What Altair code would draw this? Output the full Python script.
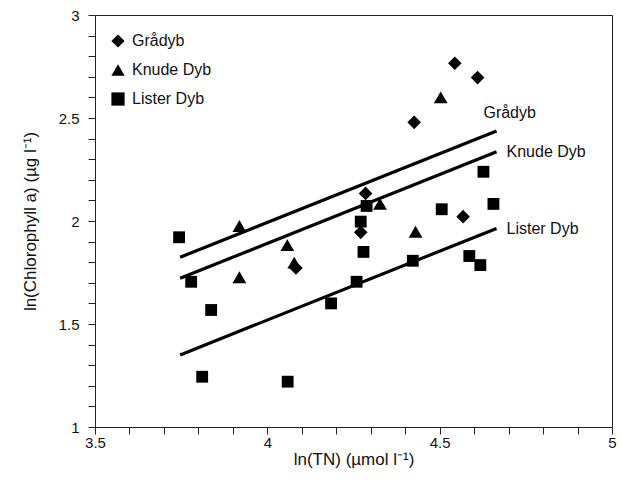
import altair as alt
import pandas as pd

# Series data
grad_x = [4.544, 4.610, 4.426, 4.285, 4.568, 4.271, 4.083]
grad_y = [2.766, 2.696, 2.479, 2.134, 2.021, 1.945, 1.772]

knud_x = [4.503, 4.327, 4.430, 3.919, 4.058, 3.919, 4.078]
knud_y = [2.600, 2.083, 1.948, 1.976, 1.883, 1.727, 1.798]

list_x = [4.627, 4.288, 4.506, 4.656, 4.271, 4.279, 4.422, 4.586, 4.618,
          4.259, 4.185, 3.744, 3.779, 3.837, 3.811, 4.059]
list_y = [2.239, 2.073, 2.057, 2.083, 1.997, 1.850, 1.807, 1.830, 1.786,
          1.705, 1.600, 1.921, 1.705, 1.568, 1.244, 1.220]

series = ["Grådyb", "Knude Dyb", "Lister Dyb"]
shapes = ["diamond", "triangle-up", "square"]
sizes = [185, 190, 140]

# regression line end points
line_x0 = [3.747, 3.747, 3.747]
line_x1 = [4.665, 4.665, 4.665]
line_y0 = [1.824, 1.722, 1.350]
line_y1 = [2.437, 2.336, 1.964]

# line label positions
lab_x = [4.627, 4.694, 4.694]
lab_y = [2.525, 2.336, 1.960]

# axis ticks
xticks = [3.5, 3.6, 3.7, 3.8, 3.9, 4.0, 4.1, 4.2, 4.3, 4.4, 4.5, 4.6, 4.7, 4.8, 4.9, 5.0]
yticks = [1.0, 1.1, 1.2, 1.3, 1.4, 1.5, 1.6, 1.7, 1.8, 1.9, 2.0,
          2.1, 2.2, 2.3, 2.4, 2.5, 2.6, 2.7, 2.8, 2.9, 3.0]

pts = pd.DataFrame(
    [{"x": x, "y": y, "s": series[0]} for x, y in zip(grad_x, grad_y)]
    + [{"x": x, "y": y, "s": series[1]} for x, y in zip(knud_x, knud_y)]
    + [{"x": x, "y": y, "s": series[2]} for x, y in zip(list_x, list_y)]
)

lines = pd.DataFrame(
    [{"x": a, "y": b, "s": s} for s, a, b in zip(series, line_x0, line_y0)]
    + [{"x": a, "y": b, "s": s} for s, a, b in zip(series, line_x1, line_y1)]
)

labels = pd.DataFrame({"x": lab_x, "y": lab_y, "t": series})

FONT = "Liberation Sans"
half_only = "abs(datum.value*2 - round(datum.value*2)) < 1e-6 ? format(datum.value, '.1~f') : ''"

xscale = alt.Scale(domain=[3.5, 5], nice=False, zero=False)
yscale = alt.Scale(domain=[1, 3], nice=False, zero=False)

xaxis = alt.Axis(
    title="ln(TN) (µmol l⁻¹)", values=xticks, labelExpr=half_only,
    grid=False, tickSize=7, labelPadding=1, labelFontSize=15, labelFont=FONT,
    titleFont=FONT, titleFontSize=17, titleFontWeight="normal",
    titleY=32, titleBaseline="middle", domainColor="#222", tickColor="#222",
    labelColor="#111", titleColor="#111", labelFlush=False, labelOverlap=False,
    labelBound=False,
)
yaxis = alt.Axis(
    title="ln(Chlorophyll a) (µg l⁻¹)", values=yticks, labelExpr=half_only,
    grid=False, tickSize=7, labelPadding=9, labelFontSize=15, labelFont=FONT,
    titleFont=FONT, titleFontSize=17, titleFontWeight="normal",
    titleX=-65, titleY=206, titleAngle=270, titleBaseline="middle", titleAlign="center",
    domainColor="#222", tickColor="#222", labelColor="#111", titleColor="#111",
    labelFlush=False, labelOverlap=False, labelBound=False,
)

X = alt.X("x:Q", scale=xscale, axis=xaxis)
Y = alt.Y("y:Q", scale=yscale, axis=yaxis)

shape_enc = alt.Shape(
    "s:N", sort=series,
    scale=alt.Scale(domain=series, range=shapes),
    legend=alt.Legend(title=None, orient="none", legendX=15, legendY=18,
                      labelFont=FONT, labelFontSize=16, labelColor="#111",
                      rowPadding=13, labelOffset=6, symbolSize=175,
                      symbolFillColor="black", symbolStrokeColor="black",
                      symbolOpacity=1, symbolStrokeWidth=0),
)

pt_layers = []
for name, sz in zip(series, sizes):
    pt_layers.append(
        alt.Chart(pts).transform_filter(alt.datum.s == name)
        .mark_point(filled=True, opacity=1, color="black", size=sz)
        .encode(x=X, y=Y, shape=shape_enc)
    )

reg = alt.Chart(lines).mark_line(color="black", strokeWidth=3.2).encode(
    x=X, y=Y, detail="s:N",
)

txt = alt.Chart(labels).mark_text(align="left", baseline="middle", font=FONT,
                                  fontSize=16, color="#111").encode(
    x=X, y=Y, text="t:N",
)

chart = alt.layer(reg, *pt_layers, txt).properties(
    width=517, height=412,
    autosize=alt.AutoSizeParams(type="none"),
    padding={"left": 95, "top": 15, "right": 9, "bottom": 56},
    background="white",
).configure_view(stroke="#222", strokeWidth=1)

chart.save("out.html", embed_options={"renderer": "svg", "actions": False})
